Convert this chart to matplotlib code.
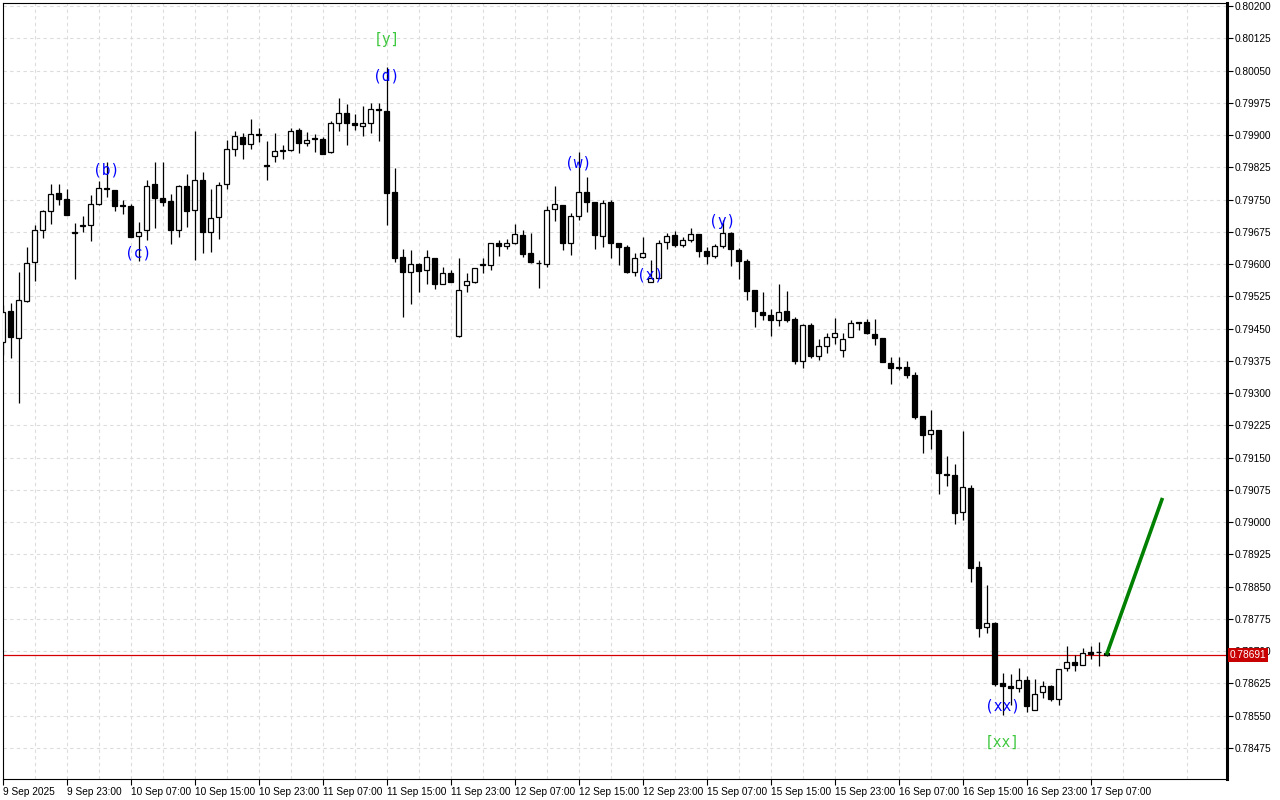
import matplotlib
matplotlib.use("Agg")
import matplotlib.pyplot as plt
import matplotlib.transforms as mtransforms
from matplotlib.ticker import FixedLocator, FormatStrFormatter

# hourly bars, 9 Sep 15:00 .. 17 Sep 08:00
opens = [0.79419, 0.79491, 0.79428, 0.79514, 0.79605, 0.79679, 0.79723, 0.79765, 0.79751, 0.79673,
         0.79688, 0.79691, 0.79740, 0.79777, 0.79772, 0.79737, 0.79735, 0.79665, 0.79679, 0.79786,
         0.79754, 0.79747, 0.79679, 0.79781, 0.79726, 0.79795, 0.79675, 0.79709, 0.79786, 0.79867,
         0.79895, 0.79879, 0.79902, 0.79830, 0.79851, 0.79863, 0.79865, 0.79912, 0.79881, 0.79893,
         0.79891, 0.79861, 0.79928, 0.79951, 0.79928, 0.79921, 0.79928, 0.79961, 0.79956, 0.79767,
         0.79616, 0.79581, 0.79600, 0.79586, 0.79614, 0.79554, 0.79579, 0.79433, 0.79551, 0.79558,
         0.79598, 0.79598, 0.79649, 0.79642, 0.79649, 0.79667, 0.79626, 0.79602, 0.79600, 0.79728,
         0.79737, 0.79649, 0.79712, 0.79767, 0.79744, 0.79665, 0.79744, 0.79649, 0.79640, 0.79581,
         0.79616, 0.79558, 0.79567, 0.79651, 0.79667, 0.79644, 0.79656, 0.79670, 0.79630, 0.79619,
         0.79642, 0.79672, 0.79633, 0.79607, 0.79540, 0.79488, 0.79481, 0.79470, 0.79491, 0.79472,
         0.79374, 0.79458, 0.79386, 0.79409, 0.79430, 0.79400, 0.79430, 0.79465, 0.79465, 0.79437,
         0.79428, 0.79370, 0.79361, 0.79361, 0.79342, 0.79247, 0.79205, 0.79214, 0.79112, 0.79109,
         0.79023, 0.79079, 0.78895, 0.78756, 0.78765, 0.78626, 0.78619, 0.78614, 0.78633, 0.78563,
         0.78605, 0.78619, 0.78588, 0.78661, 0.78674, 0.78667, 0.78698, 0.78698, 0.78695]
highs = [0.79505, 0.79509, 0.79581, 0.79640, 0.79691, 0.79726, 0.79786, 0.79786, 0.79774, 0.79695,
         0.79712, 0.79761, 0.79793, 0.79837, 0.79772, 0.79749, 0.79740, 0.79698, 0.79795, 0.79837,
         0.79837, 0.79763, 0.79784, 0.79809, 0.79909, 0.79814, 0.79774, 0.79791, 0.79888, 0.79909,
         0.79905, 0.79937, 0.79916, 0.79886, 0.79905, 0.79877, 0.79916, 0.79916, 0.79907, 0.79902,
         0.79895, 0.79933, 0.79986, 0.79972, 0.79949, 0.79967, 0.79974, 0.79974, 0.80058, 0.79823,
         0.79635, 0.79633, 0.79602, 0.79633, 0.79614, 0.79593, 0.79586, 0.79614, 0.79579, 0.79591,
         0.79614, 0.79649, 0.79656, 0.79658, 0.79693, 0.79679, 0.79672, 0.79609, 0.79735, 0.79781,
         0.79737, 0.79719, 0.79861, 0.79802, 0.79744, 0.79749, 0.79749, 0.79649, 0.79644, 0.79626,
         0.79663, 0.79609, 0.79656, 0.79672, 0.79677, 0.79663, 0.79684, 0.79670, 0.79640, 0.79647,
         0.79702, 0.79675, 0.79637, 0.79612, 0.79540, 0.79535, 0.79495, 0.79554, 0.79537, 0.79477,
         0.79461, 0.79463, 0.79426, 0.79440, 0.79474, 0.79440, 0.79470, 0.79465, 0.79472, 0.79472,
         0.79428, 0.79384, 0.79384, 0.79374, 0.79349, 0.79247, 0.79261, 0.79214, 0.79154, 0.79135,
         0.79212, 0.79086, 0.78909, 0.78854, 0.78768, 0.78649, 0.78647, 0.78661, 0.78642, 0.78635,
         0.78630, 0.78621, 0.78658, 0.78712, 0.78691, 0.78707, 0.78712, 0.78721, 0.78702]
lows = [0.79388, 0.79381, 0.79277, 0.79512, 0.79561, 0.79661, 0.79693, 0.79737, 0.79714, 0.79565,
        0.79675, 0.79654, 0.79737, 0.79756, 0.79723, 0.79716, 0.79663, 0.79607, 0.79656, 0.79684,
        0.79735, 0.79647, 0.79663, 0.79686, 0.79609, 0.79626, 0.79628, 0.79658, 0.79774, 0.79851,
        0.79844, 0.79867, 0.79884, 0.79795, 0.79837, 0.79844, 0.79863, 0.79858, 0.79874, 0.79861,
        0.79856, 0.79858, 0.79909, 0.79877, 0.79912, 0.79898, 0.79905, 0.79886, 0.79691, 0.79605,
        0.79477, 0.79507, 0.79535, 0.79554, 0.79542, 0.79554, 0.79558, 0.79430, 0.79535, 0.79556,
        0.79579, 0.79586, 0.79619, 0.79635, 0.79647, 0.79616, 0.79602, 0.79544, 0.79593, 0.79700,
        0.79633, 0.79621, 0.79702, 0.79721, 0.79635, 0.79640, 0.79614, 0.79598, 0.79579, 0.79572,
        0.79614, 0.79558, 0.79567, 0.79635, 0.79640, 0.79640, 0.79651, 0.79616, 0.79600, 0.79614,
        0.79637, 0.79595, 0.79565, 0.79516, 0.79454, 0.79470, 0.79433, 0.79456, 0.79465, 0.79367,
        0.79358, 0.79381, 0.79377, 0.79393, 0.79414, 0.79384, 0.79430, 0.79447, 0.79437, 0.79412,
        0.79372, 0.79321, 0.79354, 0.79335, 0.79240, 0.79161, 0.79170, 0.79065, 0.79084, 0.78995,
        0.79005, 0.78861, 0.78733, 0.78742, 0.78619, 0.78551, 0.78574, 0.78605, 0.78558, 0.78563,
        0.78591, 0.78584, 0.78574, 0.78654, 0.78654, 0.78667, 0.78681, 0.78665, 0.78688]
closes = [0.79488, 0.79430, 0.79516, 0.79602, 0.79679, 0.79723, 0.79763, 0.79751, 0.79714, 0.79675,
          0.79691, 0.79740, 0.79777, 0.79774, 0.79735, 0.79735, 0.79663, 0.79675, 0.79781, 0.79754,
          0.79744, 0.79679, 0.79781, 0.79723, 0.79795, 0.79675, 0.79707, 0.79784, 0.79867, 0.79898,
          0.79879, 0.79902, 0.79901, 0.79829, 0.79863, 0.79865, 0.79909, 0.79881, 0.79888, 0.79891,
          0.79856, 0.79928, 0.79951, 0.79928, 0.79923, 0.79928, 0.79961, 0.79958, 0.79765, 0.79614,
          0.79581, 0.79600, 0.79584, 0.79616, 0.79554, 0.79579, 0.79558, 0.79540, 0.79561, 0.79591,
          0.79600, 0.79649, 0.79642, 0.79649, 0.79670, 0.79623, 0.79605, 0.79603, 0.79726, 0.79740,
          0.79649, 0.79712, 0.79767, 0.79744, 0.79667, 0.79742, 0.79649, 0.79640, 0.79581, 0.79614,
          0.79626, 0.79567, 0.79649, 0.79665, 0.79644, 0.79656, 0.79670, 0.79630, 0.79619, 0.79642,
          0.79672, 0.79635, 0.79607, 0.79537, 0.79491, 0.79481, 0.79470, 0.79488, 0.79470, 0.79374,
          0.79458, 0.79386, 0.79409, 0.79430, 0.79440, 0.79426, 0.79463, 0.79463, 0.79440, 0.79428,
          0.79372, 0.79358, 0.79359, 0.79342, 0.79244, 0.79202, 0.79214, 0.79114, 0.79110, 0.79021,
          0.79081, 0.78893, 0.78754, 0.78765, 0.78623, 0.78619, 0.78614, 0.78633, 0.78572, 0.78600,
          0.78619, 0.78588, 0.78658, 0.78674, 0.78667, 0.78695, 0.78693, 0.78697, 0.78691]

time_labels = ["9 Sep 2025", "9 Sep 23:00", "10 Sep 07:00", "10 Sep 15:00", "10 Sep 23:00",
               "11 Sep 07:00", "11 Sep 15:00", "11 Sep 23:00", "12 Sep 07:00", "12 Sep 15:00",
               "12 Sep 23:00", "15 Sep 07:00", "15 Sep 15:00", "15 Sep 23:00", "16 Sep 07:00",
               "16 Sep 15:00", "16 Sep 23:00", "17 Sep 07:00"]

# wave labels: text, bar index, price
wave_text = ["(b)", "(c)", "(d)", "(w)", "(x)", "(y)", "(xx)"]
wave_bar = [13, 17, 48, 72, 81, 90, 125]
wave_price = [0.79819, 0.79626, 0.80037, 0.79835, 0.79574, 0.79698, 0.78572]
big_text = ["[y]", "[xx]"]
big_bar = [48, 125]
big_price = [0.80121, 0.78488]

# projection line
proj_bar = [138, 145]
proj_price = [0.78691, 0.79056]
last_price = 0.78691

plt.rcParams['font.family'] = ['Liberation Sans', 'DejaVu Sans']

fig = plt.figure(figsize=(12.8, 8), dpi=100)
ax = fig.add_axes([2.5 / 1280, 1 - 778.5 / 800, 1224 / 1280, 775.8 / 800])

n = len(opens)
xs = list(range(n))
ax.vlines(xs, lows, highs, color="black", linewidth=0.9, zorder=2)
for i in range(n):
    o, c = opens[i], closes[i]
    if c >= o:
        ax.bar(i, c - o, bottom=o, width=0.58, facecolor="white",
               edgecolor="black", linewidth=0.9, zorder=3)
    else:
        ax.bar(i, o - c, bottom=c, width=0.58, facecolor="black",
               edgecolor="black", linewidth=0.9, zorder=3)

ax.axhline(last_price, color="#d40000", linewidth=0.9, zorder=1)
ax.plot(proj_bar, proj_price, color="#008000", linewidth=2.6, zorder=4,
        solid_capstyle="butt")

for t, b, p in zip(wave_text, wave_bar, wave_price):
    ax.text(b, p, t, color="#0000ff", fontsize=10.5, family="DejaVu Sans Mono",
            ha="center", va="center", zorder=5)
for t, b, p in zip(big_text, big_bar, big_price):
    ax.text(b, p, t, color="#3ec83e", fontsize=10.5, family="DejaVu Sans Mono",
            ha="center", va="center", zorder=5)

ax.set_xlim(0.02, 153.0)
ax.set_ylim(0.784035, 0.802077)

# price axis
yt = [0.78475 + 0.00075 * k for k in range(24)]
ax.yaxis.tick_right()
ax.yaxis.set_major_locator(FixedLocator(yt))
ax.yaxis.set_major_formatter(FormatStrFormatter("%.5f"))
ax.tick_params(axis="y", direction="out", length=4, width=0.8, pad=2,
               labelsize=7.3, colors="black")

# time axis
ax.set_xticks(list(range(0, n, 8)))
ax.set_xticklabels(time_labels, ha="left")
ax.set_xticks(list(range(4, n + 16, 8)), minor=True)
ax.tick_params(axis="x", which="major", direction="out", length=4, width=0.8,
               pad=2, labelsize=7.3)
ax.tick_params(axis="x", which="minor", length=0)
for lab in ax.get_xticklabels():
    lab.set_transform(lab.get_transform() + mtransforms.ScaledTranslation(0.5 / 100, 0, fig.dpi_scale_trans))

ax.grid(True, which="both", axis="x", color="#dcdcdc", linestyle=(0, (3, 3)), linewidth=0.8)
ax.grid(True, which="major", axis="y", color="#dcdcdc", linestyle=(0, (3, 3)), linewidth=0.8)
ax.set_axisbelow(True)

for s in ["left", "top", "bottom"]:
    ax.spines[s].set_linewidth(0.8)
ax.spines["right"].set_linewidth(2.2)

# current price tag (covers the 0.78700 label, as in the terminal)
trans = mtransforms.blended_transform_factory(ax.transAxes, ax.transData)
ax.text(1.0025, last_price, "%.5f" % last_price, transform=trans, color="white",
        fontsize=7.3, ha="left", va="center", zorder=6, clip_on=False,
        bbox=dict(boxstyle="square,pad=0.2", facecolor="#c80000", edgecolor="none"))

fig.savefig("out.png", dpi=100)
